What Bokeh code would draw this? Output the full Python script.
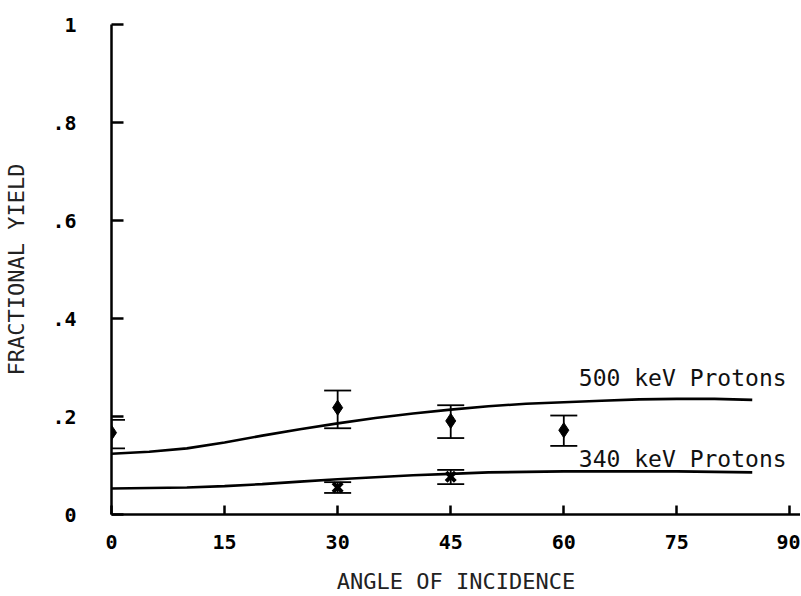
from bokeh.plotting import figure
from bokeh.models import ColumnDataSource, Whisker, TeeHead, FixedTicker, Range1d
from bokeh.core.properties import value
from bokeh.embed import file_html
from bokeh.resources import INLINE

# ---- data ----
curve_angle = [0, 5, 10, 15, 20, 25, 30, 35, 40, 45, 50, 55, 60, 65, 70, 75, 80, 85]
curve_500 = [0.124, 0.128, 0.135, 0.147, 0.161, 0.174, 0.186, 0.197, 0.206, 0.214,
             0.221, 0.226, 0.229, 0.232, 0.235, 0.236, 0.236, 0.234]
curve_340 = [0.053, 0.054, 0.055, 0.058, 0.062, 0.067, 0.072, 0.076, 0.080, 0.083,
             0.086, 0.087, 0.088, 0.088, 0.088, 0.088, 0.087, 0.086]

pts500_angle = [0, 30, 45, 60]
pts500_y = [0.167, 0.218, 0.191, 0.172]
pts500_hi = [0.193, 0.253, 0.223, 0.202]
pts500_lo = [0.135, 0.176, 0.156, 0.140]

pts340_angle = [30, 45]
pts340_y = [0.055, 0.077]
pts340_hi = [0.066, 0.091]
pts340_lo = [0.044, 0.062]

x_ticks = [0, 15, 30, 45, 60, 75, 90]
y_ticks = [0, 0.2, 0.4, 0.6, 0.8, 1.0]
y_tick_labels = {0: "0", 0.2: ".2", 0.4: ".4", 0.6: ".6", 0.8: ".8", 1.0: "1"}
curve_labels = ["500 keV Protons", "340 keV Protons"]

MONO = "DejaVu Sans Mono"

p = figure(width=800, height=596, output_backend="svg", toolbar_location=None,
           x_range=Range1d(0, 91.4), y_range=Range1d(0, 1.0),
           min_border_left=111, min_border_right=0, min_border_top=24, min_border_bottom=80)
p.outline_line_color = None
p.xgrid.visible = False
p.ygrid.visible = False
p.background_fill_color = "white"

# axes
for ax in (p.xaxis[0], p.yaxis[0]):
    ax.axis_line_width = 2.5
    ax.axis_line_color = "black"
    ax.major_tick_line_width = 2.5
    ax.major_tick_line_color = "black"
    ax.major_tick_out = 0
    ax.minor_tick_line_color = None
    ax.major_label_text_font = MONO
    ax.major_label_text_font_style = "bold"
    ax.major_label_text_font_size = "20px"
    ax.major_label_text_color = "black"
    ax.axis_label_text_font = MONO
    ax.axis_label_text_font_style = "normal"
    ax.axis_label_text_font_size = "22px"
    ax.axis_label_text_color = "#222222"

p.xaxis.ticker = FixedTicker(ticks=x_ticks)
p.yaxis.ticker = FixedTicker(ticks=y_ticks)
p.yaxis.major_label_overrides = y_tick_labels
p.xaxis.major_tick_in = 9
p.yaxis.major_tick_in = 12
p.xaxis.major_label_standoff = 20
p.yaxis.major_label_standoff = 35
p.xaxis.axis_label = "ANGLE OF INCIDENCE"
p.yaxis.axis_label = "FRACTIONAL YIELD"
p.xaxis.axis_label_standoff = 17
p.yaxis.axis_label_standoff = 20

# curves
p.line(curve_angle, curve_500, line_width=2.6, line_color="black")
p.line(curve_angle, curve_340, line_width=2.6, line_color="black")

# error bars
src500 = ColumnDataSource(dict(x=pts500_angle, y=pts500_y, hi=pts500_hi, lo=pts500_lo))
src340 = ColumnDataSource(dict(x=pts340_angle, y=pts340_y, hi=pts340_hi, lo=pts340_lo))
for src in (src500, src340):
    w = Whisker(source=src, base="x", upper="hi", lower="lo", line_width=1.8,
                line_color="black",
                upper_head=TeeHead(size=27, line_width=1.8, line_color="black"),
                lower_head=TeeHead(size=27, line_width=1.8, line_color="black"))
    p.add_layout(w)

p.scatter("x", "y", source=src500, marker="diamond", size=15,
          fill_color="black", line_color="black")
p.scatter("x", "y", source=src340, marker="x", size=13, line_width=4,
          line_color="black")

# curve labels
p.text(x=[62.0, 62.0], y=[0.278, 0.114], text=curve_labels,
       text_font=value(MONO), text_font_size="23px", text_color="#111111",
       text_align="left", text_baseline="alphabetic")

open("out.html", "w").write(file_html(p, INLINE))
